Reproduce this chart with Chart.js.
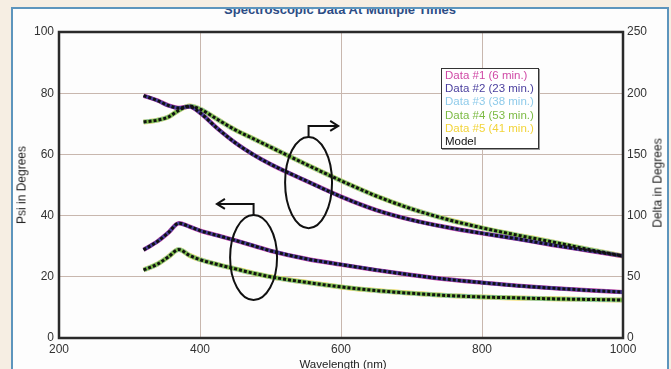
<!DOCTYPE html>
<html><head><meta charset="utf-8">
<script src="https://cdn.jsdelivr.net/npm/chart.js@4"></script>
<style>
html,body{margin:0;padding:0;width:671px;height:369px;overflow:hidden;background:#f6eee3;font-family:'Liberation Sans',Arial,sans-serif;}
#frame{position:absolute;left:11px;top:7px;width:654px;height:380px;border:2px solid #5d95bd;background:#fdfdfd;overflow:hidden;}
#title{position:absolute;left:0;width:100%;top:-7px;text-align:center;font-weight:bold;font-size:13px;color:#2c4c85;line-height:15px;white-space:nowrap;}
#wrap{position:absolute;left:0;top:0;width:671px;height:369px;}
.atitle{position:absolute;white-space:nowrap;font-size:12px;color:#222;transform:translate(-50%,-50%) rotate(-90deg);line-height:13px;}
#xtitle{position:absolute;left:343px;top:364px;transform:translate(-50%,-50%);font-size:11.5px;color:#222;white-space:nowrap;line-height:12px;}
#legend{position:absolute;left:441px;top:68px;border:1.5px solid #333;background:#fff;padding:0 4px 0 3px;font-size:11.5px;line-height:13.2px;white-space:nowrap;box-shadow:1px 1px 0 #999;}
</style></head>
<body>
<div id="frame"><div id="title">Spectroscopic Data At Multiple Times</div></div>
<div id="wrap"><canvas id="c" width="671" height="369"></canvas></div>
<div class="atitle" style="left:22px;top:185px;">Psi in Degrees</div>
<div class="atitle" style="left:658px;top:183px;">Delta in Degrees</div>
<div id="xtitle">Wavelength (nm)</div>
<div id="legend"></div>
<script>
// ---- data ----
const wavelengths = [320,340,355,370,385,400,425,450,475,500,550,600,650,700,750,800,850,900,950,1000];
const psiEarly   = [28.8,31.6,34.4,37.5,36.4,35.1,33.5,31.9,30.2,28.5,25.9,24.0,22.2,20.6,19.2,18.1,17.1,16.3,15.6,15.0];
const psiLate    = [22.2,24.2,26.5,28.9,27.0,25.6,24.0,22.6,21.2,20.0,18.2,16.7,15.5,14.6,13.9,13.4,13.1,12.8,12.6,12.4];
const deltaEarly = [198,194,190,188,189,184,171,159.5,150,142,128.5,115.5,104.5,96.5,90.5,85.5,81,76,71.5,67];
const deltaLate  = [176.5,178,180.5,186,189.5,187,178.5,170,163,156,142,128.5,116,105.5,97,90,84,78.5,72.5,67];
const seriesNames = ['Data #1 (6 min.)','Data #2 (23 min.)','Data #3 (38 min.)','Data #4 (53 min.)','Data #5 (41 min.)','Model'];
const seriesColors = ['#d04aa6','#4a3f9e','#8fcbea','#7dbb45','#f2d43a','#111111'];
const xTicks = [200,400,600,800,1000];
const psiTicks = [0,20,40,60,80,100];
const deltaTicks = [0,50,100,150,200,250];

// callout annotations (data units)
const callouts = [
  {cx:476, cy:26.3, rx:33.3, ry:13.9, stemTo:43.8, arrowTo:424},
  {cx:554, cy:50.8, rx:33.3, ry:14.9, stemTo:69.3, arrowTo:596}
];

const pts = arr => wavelengths.map((x,i)=>({x:x,y:arr[i]}));
function ds(label, arr, axis, color, width, order, dash){
  return {label:label, data:pts(arr), yAxisID:axis, borderColor:color, borderWidth:width,
    borderDash:dash||[], pointRadius:0, fill:false, cubicInterpolationMode:'monotone', order:order, borderCapStyle:'butt'};
}
const datasets = [];
[['y',psiEarly,psiLate],['y2',deltaEarly,deltaLate]].forEach(([ax,early,late])=>{
  datasets.push(ds(seriesNames[5], early, ax, seriesColors[5], 3, 0, [3,2]));
  datasets.push(ds(seriesNames[5], late, ax, seriesColors[5], 3, 0, [3,2]));
  datasets.push(ds(seriesNames[1], early, ax, seriesColors[1], 3.6, 2));
  datasets.push(ds(seriesNames[0], early, ax, seriesColors[0], 4.4, 3));
  datasets.push(ds(seriesNames[3], late, ax, seriesColors[3], 3.6, 2));
  datasets.push(ds(seriesNames[2], late, ax, seriesColors[2], 4.4, 3));
  datasets.push(ds(seriesNames[4], late, ax, seriesColors[4], 5, 4));
});

const leg = document.getElementById('legend');
seriesNames.forEach((n,i)=>{const d=document.createElement('div');d.textContent=n;d.style.color=seriesColors[i];leg.appendChild(d);});

const framePlugin = {
  id:'frameAndCallouts',
  afterDatasetsDraw(chart){
    const ctx = chart.ctx, a = chart.chartArea, xs = chart.scales.x, ys = chart.scales.y;
    ctx.save();
    ctx.strokeStyle = '#111'; ctx.lineWidth = 2;
    callouts.forEach(c=>{
      const cx = xs.getPixelForValue(c.cx), cy = ys.getPixelForValue(c.cy);
      const rx = Math.abs(xs.getPixelForValue(c.cx+c.rx)-cx), ry = Math.abs(ys.getPixelForValue(c.cy+c.ry)-cy);
      ctx.beginPath(); ctx.ellipse(cx,cy,rx,ry,0,0,Math.PI*2); ctx.stroke();
      const top = cy-ry, sy = ys.getPixelForValue(c.stemTo), ex = xs.getPixelForValue(c.arrowTo);
      ctx.beginPath(); ctx.moveTo(cx,top); ctx.lineTo(cx,sy); ctx.lineTo(ex,sy); ctx.stroke();
      const dir = ex < cx ? 1 : -1;
      ctx.beginPath(); ctx.moveTo(ex+dir*8, sy-5); ctx.lineTo(ex, sy); ctx.lineTo(ex+dir*8, sy+5); ctx.stroke();
    });
    ctx.strokeStyle = '#2a2a2a'; ctx.lineWidth = 2.5;
    ctx.strokeRect(a.left, a.top, a.right-a.left, a.bottom-a.top);
    ctx.restore();
  }
};

const tickFont = {family:"'Liberation Sans', Arial, sans-serif", size:12};
const plain = v => String(v);
new Chart(document.getElementById('c'), {
  type:'line',
  data:{datasets:datasets},
  options:{
    responsive:false, animation:false, devicePixelRatio:1,
    layout:{padding:{top:32,left:0,right:0,bottom:0}},
    plugins:{legend:{display:false}, tooltip:{enabled:false}, title:{display:false}},
    scales:{
      x:{type:'linear', min:200, max:1000, position:'bottom',
         afterFit(s){s.height=31;},
         afterBuildTicks(s){s.ticks = xTicks.map(v=>({value:v}));},
         ticks:{font:tickFont, color:'#333', padding:4, maxRotation:0, autoSkip:false, callback:plain},
         grid:{color:'#c8b7ae', lineWidth:1, drawTicks:false}, border:{display:false}},
      y:{type:'linear', min:0, max:100, position:'left',
         afterFit(s){s.width=59;},
         afterBuildTicks(s){s.ticks = psiTicks.map(v=>({value:v}));},
         ticks:{font:tickFont, color:'#333', padding:5, callback:plain},
         grid:{color:'#c8b7ae', lineWidth:1, drawTicks:false}, border:{display:false}},
      y2:{type:'linear', min:0, max:250, position:'right',
         afterFit(s){s.width=48;},
         afterBuildTicks(s){s.ticks = deltaTicks.map(v=>({value:v}));},
         ticks:{font:tickFont, color:'#333', padding:4, callback:plain},
         grid:{drawOnChartArea:false, drawTicks:false}, border:{display:false}}
    }
  },
  plugins:[framePlugin]
});
</script>
</body></html>
